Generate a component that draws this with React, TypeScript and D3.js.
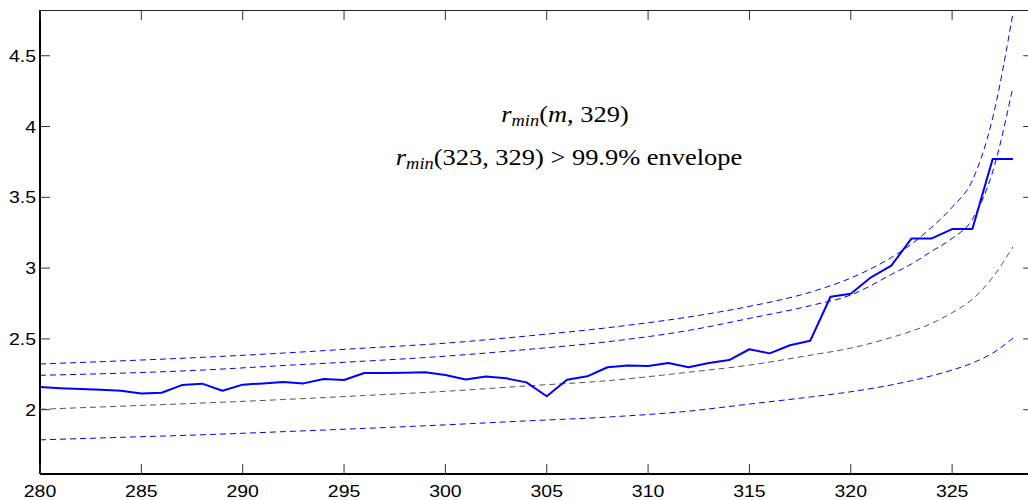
import React from "react";
import * as d3 from "d3";

// Observed statistic r_min(m, 329) for m = 280..328
const mValues: number[] = d3.range(280, 329);
const rMin: number[] = [
  2.16, 2.152, 2.146, 2.141, 2.134, 2.114, 2.12, 2.174, 2.184, 2.134,
  2.177, 2.186, 2.196, 2.186, 2.217, 2.21, 2.259, 2.259, 2.261, 2.264,
  2.245, 2.214, 2.235, 2.222, 2.193, 2.095, 2.212, 2.236, 2.3, 2.313,
  2.309, 2.33, 2.3, 2.33, 2.351, 2.427, 2.398, 2.455, 2.487, 2.798,
  2.819, 2.935, 3.017, 3.21, 3.21, 3.276, 3.276, 3.77, 3.77,
];

// Envelope curves, sampled at these m values
const envM: number[] = [280, 284, 288, 292, 296, 300, 304, 308, 312, 315, 318, 320, 322, 323, 324, 325, 326, 327, 328];
const upper999: number[] = [2.323, 2.345, 2.37, 2.4, 2.435, 2.47, 2.52, 2.579, 2.655, 2.73, 2.83, 2.93, 3.075, 3.17, 3.29, 3.43, 3.62, 4.06, 4.8];
const upper99: number[] = [2.243, 2.258, 2.28, 2.312, 2.343, 2.378, 2.425, 2.48, 2.56, 2.645, 2.735, 2.81, 2.955, 3.03, 3.12, 3.21, 3.345, 3.68, 4.28];
const meanCurve: number[] = [2.003, 2.025, 2.047, 2.072, 2.1, 2.13, 2.168, 2.205, 2.265, 2.315, 2.385, 2.435, 2.51, 2.555, 2.61, 2.685, 2.78, 2.935, 3.15];
const lower: number[] = [1.787, 1.805, 1.823, 1.845, 1.868, 1.893, 1.921, 1.948, 1.99, 2.04, 2.09, 2.127, 2.175, 2.205, 2.24, 2.28, 2.33, 2.4, 2.505];

const xTicks: number[] = [280, 285, 290, 295, 300, 305, 310, 315, 320, 325];
const yTicks: number[] = [2, 2.5, 3, 3.5, 4, 4.5];

const W = 1028;
const H = 500;
const left = 40;
const right = 1033.2;
const top = 10;
const bottom = 474;

export default function App() {
  const x = d3.scaleLinear().domain([280, 329]).range([left, right]);
  const y = d3.scaleLinear().domain([1.546, 4.823]).range([bottom, top]);

  const solid = d3
    .line<number>()
    .x((_, i) => x(mValues[i]))
    .y((d) => y(d));

  const smooth = d3
    .line<number>()
    .x((_, i) => x(envM[i]))
    .y((d) => y(d))
    .curve(d3.curveMonotoneX);

  const tickFont = "'Liberation Sans', Arial, sans-serif";
  const mathFont = "'Liberation Serif', 'DejaVu Serif', serif";
  const tickColor = "#333";

  return (
    <svg
      width={W}
      height={H}
      style={{ position: "absolute", left: 0, top: 0, background: "#fff" }}
    >
      <rect x={0} y={0} width={W} height={H} fill="#fff" />

      {/* envelopes */}
      <path d={smooth(upper999) || ""} fill="none" stroke="#0000ff" strokeWidth={1} strokeDasharray="6,4" />
      <path d={smooth(upper99) || ""} fill="none" stroke="#0000ff" strokeWidth={1} strokeDasharray="6,4" />
      <path d={smooth(meanCurve) || ""} fill="none" stroke="#55554a" strokeWidth={1} strokeDasharray="6,4" />
      <path d={smooth(lower) || ""} fill="none" stroke="#0000ff" strokeWidth={1} strokeDasharray="6,4" />

      {/* observed */}
      <path d={solid(rMin) || ""} fill="none" stroke="#0000ff" strokeWidth={2} strokeLinejoin="round" />

      {/* frame */}
      <line x1={left} x2={W} y1={top + 0.5} y2={top + 0.5} stroke="#222" strokeWidth={1} />
      <line x1={left} x2={left} y1={top} y2={bottom} stroke="#000" strokeWidth={2} />
      <line x1={left} x2={W} y1={bottom} y2={bottom} stroke="#000" strokeWidth={2} />

      {/* x ticks */}
      {xTicks.map((t) => (
        <g key={"x" + t}>
          <line x1={x(t)} x2={x(t)} y1={bottom} y2={bottom - 10} stroke={tickColor} strokeWidth={1} />
          <line x1={x(t)} x2={x(t)} y1={top} y2={top + 10} stroke={tickColor} strokeWidth={1} />
          <text
            transform={`translate(${x(t)},${497}) scale(1.18,1)`}
            textAnchor="middle"
            fontFamily={tickFont}
            fontSize={16.5}
            fill="#000"
          >
            {t}
          </text>
        </g>
      ))}

      {/* y ticks */}
      {yTicks.map((t) => (
        <g key={"y" + t}>
          <line x1={left} x2={left + 10} y1={y(t)} y2={y(t)} stroke={tickColor} strokeWidth={1} />
          <line x1={right - 10} x2={right} y1={y(t)} y2={y(t)} stroke={tickColor} strokeWidth={1} />
          <text
            transform={`translate(${36},${y(t) + 6}) scale(1.18,1)`}
            textAnchor="end"
            fontFamily={tickFont}
            fontSize={16.5}
            fill="#000"
          >
            {t}
          </text>
        </g>
      ))}

      {/* annotations */}
      <text
        transform="translate(565,122) scale(1.15,1)"
        textAnchor="middle"
        fontFamily={mathFont}
        fontSize={23}
        fill="#000"
      >
        <tspan fontStyle="italic">r</tspan>
        <tspan fontStyle="italic" fontSize={16} dy={4}>min</tspan>
        <tspan dy={-4}>(</tspan>
        <tspan fontStyle="italic">m</tspan>
        <tspan>, 329)</tspan>
      </text>
      <text
        transform="translate(569,165) scale(1.15,1)"
        textAnchor="middle"
        fontFamily={mathFont}
        fontSize={23}
        fill="#000"
      >
        <tspan fontStyle="italic">r</tspan>
        <tspan fontStyle="italic" fontSize={16} dy={4}>min</tspan>
        <tspan dy={-4}>(323, 329) &gt; 99.9% envelope</tspan>
      </text>
    </svg>
  );
}
